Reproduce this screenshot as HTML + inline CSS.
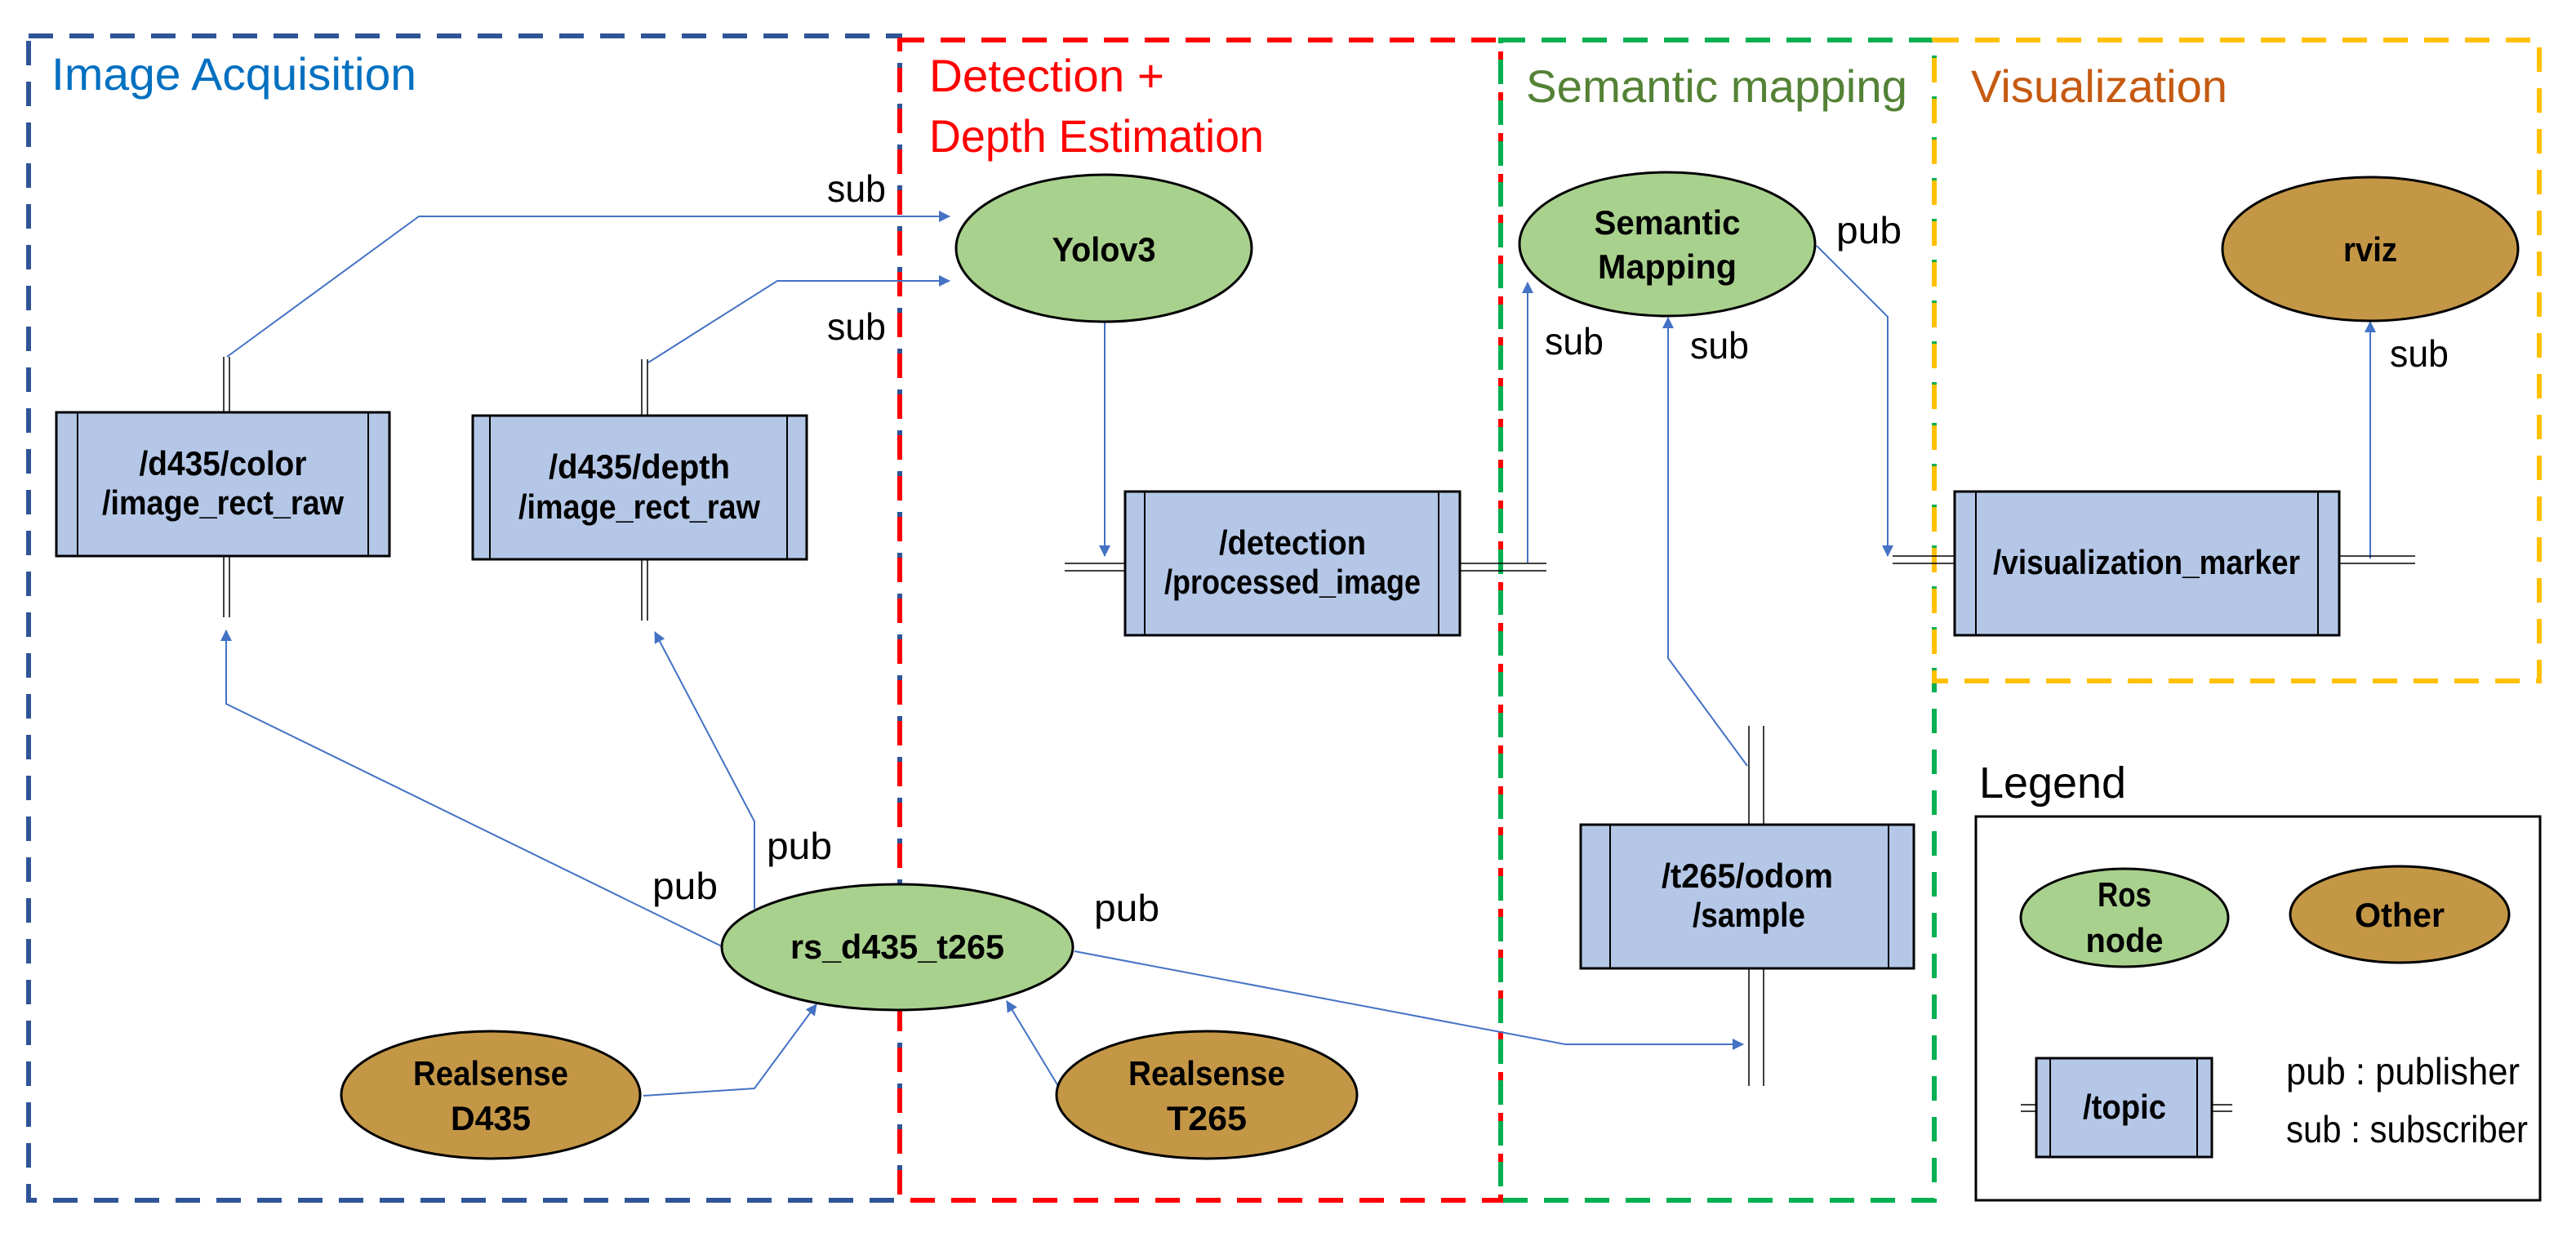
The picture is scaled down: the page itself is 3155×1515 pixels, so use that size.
<!DOCTYPE html>
<html><head><meta charset="utf-8"><style>
html,body{margin:0;padding:0;background:#fff;}
svg{display:block;}
text{font-family:"Liberation Sans",sans-serif;}
.n{font-weight:bold;font-size:42px;fill:#000;text-anchor:middle;}
.l{font-size:46px;fill:#000;}
</style></head><body>
<svg width="3155" height="1515" viewBox="0 0 3155 1515" xmlns="http://www.w3.org/2000/svg">
<defs>
<marker id="a" markerWidth="10" markerHeight="10" refX="9" refY="5" orient="auto" markerUnits="userSpaceOnUse" viewBox="0 0 10 10">
<path d="M0,0 L10,5 L0,10 z" fill="#4472C4"/></marker>
<marker id="b" markerWidth="14" markerHeight="14" refX="13" refY="7" orient="auto" markerUnits="userSpaceOnUse" viewBox="0 0 14 14">
<path d="M0,0 L14,7 L0,14 z" fill="#4472C4"/></marker>
</defs>

<!-- dashed region boxes -->
<g fill="none" stroke-width="6" stroke-dasharray="30 20">
<rect x="35" y="44" width="1067" height="1426" stroke="#2F5597"/>
<rect x="1102" y="49" width="736" height="1421" stroke="#FF0000"/>
<rect x="1838" y="49" width="531" height="1421" stroke="#00B050"/>
<rect x="2369" y="49" width="741" height="785" stroke="#FFC000"/>
</g>

<!-- titles -->
<text x="63" y="110" font-size="56" fill="#0070C0" textLength="447" lengthAdjust="spacingAndGlyphs">Image Acquisition</text>
<text x="1138" y="112" font-size="56" fill="#FF0000" textLength="288" lengthAdjust="spacingAndGlyphs">Detection +</text>
<text x="1138" y="186" font-size="56" fill="#FF0000" textLength="410" lengthAdjust="spacingAndGlyphs">Depth Estimation</text>
<text x="1869" y="125" font-size="56" fill="#548235" textLength="467" lengthAdjust="spacingAndGlyphs">Semantic mapping</text>
<text x="2414" y="125" font-size="56" fill="#C55A11" textLength="314" lengthAdjust="spacingAndGlyphs">Visualization</text>

<!-- connectors -->
<g fill="none" stroke="#4472C4" stroke-width="2">
<polyline points="278,437 513,265 1163,265" marker-end="url(#b)"/>
<polyline points="794,444 952,344 1163,344" marker-end="url(#b)"/>
<line x1="1353" y1="394" x2="1353" y2="681" marker-end="url(#b)"/>
<line x1="1871" y1="689" x2="1871" y2="346" marker-end="url(#b)"/>
<polyline points="2140,938 2043,806 2043,389" marker-end="url(#b)"/>
<polyline points="2225,301 2312,388 2312,681" marker-end="url(#b)"/>
<line x1="2903" y1="684" x2="2903" y2="394" marker-end="url(#b)"/>
<polyline points="884,1159 277,862 277,772" marker-end="url(#b)"/>
<polyline points="924,1113 924,1006 802,774" marker-end="url(#b)"/>
<polyline points="788,1342 924,1333 1000,1230" marker-end="url(#b)"/>
<line x1="1296" y1="1330" x2="1233" y2="1226" marker-end="url(#b)"/>
<polyline points="1316,1165 1917,1279 2135,1279" marker-end="url(#b)"/>
</g>

<!-- double lines -->
<g stroke="#000" stroke-width="1.5">
<line x1="274" y1="437" x2="274" y2="505"/><line x1="281" y1="437" x2="281" y2="505"/>
<line x1="274" y1="681" x2="274" y2="756"/><line x1="281" y1="681" x2="281" y2="756"/>
<line x1="786" y1="440" x2="786" y2="509"/><line x1="793" y1="440" x2="793" y2="509"/>
<line x1="786" y1="685" x2="786" y2="760"/><line x1="793" y1="685" x2="793" y2="760"/>
<line x1="1304" y1="690" x2="1378" y2="690"/><line x1="1304" y1="699" x2="1378" y2="699"/>
<line x1="1788" y1="690" x2="1894" y2="690"/><line x1="1788" y1="699" x2="1894" y2="699"/>
<line x1="2318" y1="681" x2="2394" y2="681"/><line x1="2318" y1="690" x2="2394" y2="690"/>
<line x1="2865" y1="681" x2="2958" y2="681"/><line x1="2865" y1="690" x2="2958" y2="690"/>
<line x1="2142" y1="889" x2="2142" y2="1010"/><line x1="2160" y1="889" x2="2160" y2="1010"/>
<line x1="2142" y1="1186" x2="2142" y2="1330"/><line x1="2160" y1="1186" x2="2160" y2="1330"/>
<line x1="2475" y1="1353" x2="2494" y2="1353"/><line x1="2475" y1="1361" x2="2494" y2="1361"/>
<line x1="2709" y1="1353" x2="2734" y2="1353"/><line x1="2709" y1="1361" x2="2734" y2="1361"/>
</g>

<!-- topic boxes -->
<g fill="#B4C7E7" stroke="#000" stroke-width="3">
<rect x="69" y="505" width="408" height="176"/>
<rect x="579" y="509" width="409" height="176"/>
<rect x="1378" y="602" width="410" height="176"/>
<rect x="2394" y="602" width="471" height="176"/>
<rect x="1936" y="1010" width="408" height="176"/>
<rect x="2494" y="1296" width="215" height="121"/>
</g>
<g stroke="#000" stroke-width="2">
<line x1="95" y1="505" x2="95" y2="681"/><line x1="451" y1="505" x2="451" y2="681"/>
<line x1="600" y1="509" x2="600" y2="685"/><line x1="964" y1="509" x2="964" y2="685"/>
<line x1="1402" y1="602" x2="1402" y2="778"/><line x1="1762" y1="602" x2="1762" y2="778"/>
<line x1="2420" y1="602" x2="2420" y2="778"/><line x1="2839" y1="602" x2="2839" y2="778"/>
<line x1="1972" y1="1010" x2="1972" y2="1186"/><line x1="2313" y1="1010" x2="2313" y2="1186"/>
<line x1="2511" y1="1296" x2="2511" y2="1417"/><line x1="2691" y1="1296" x2="2691" y2="1417"/>
</g>

<!-- ellipses -->
<g stroke="#000" stroke-width="3">
<ellipse cx="1352" cy="304" rx="181" ry="90" fill="#A9D18E"/>
<ellipse cx="2042" cy="299" rx="181" ry="88" fill="#A9D18E"/>
<ellipse cx="2903" cy="305" rx="181" ry="88" fill="#C49746"/>
<ellipse cx="1099" cy="1160" rx="215" ry="77" fill="#A9D18E"/>
<ellipse cx="601" cy="1341" rx="183" ry="78" fill="#C49746"/>
<ellipse cx="1478" cy="1341" rx="184" ry="78" fill="#C49746"/>
<ellipse cx="2602" cy="1124" rx="127" ry="60" fill="#A9D18E"/>
<ellipse cx="2939" cy="1120" rx="134" ry="59" fill="#C49746"/>
</g>
<rect x="2420" y="1000" width="691" height="470" fill="none" stroke="#000" stroke-width="3"/>

<!-- node texts -->
<text class="n" x="1352" y="320" textLength="127" lengthAdjust="spacingAndGlyphs">Yolov3</text>
<text class="n" x="2042" y="287" textLength="179" lengthAdjust="spacingAndGlyphs">Semantic</text>
<text class="n" x="2042" y="341" textLength="170" lengthAdjust="spacingAndGlyphs">Mapping</text>
<text class="n" x="2903" y="320" textLength="66" lengthAdjust="spacingAndGlyphs">rviz</text>
<text class="n" x="1099" y="1174" textLength="262" lengthAdjust="spacingAndGlyphs">rs_d435_t265</text>
<text class="n" x="601" y="1329" textLength="190" lengthAdjust="spacingAndGlyphs">Realsense</text>
<text class="n" x="601" y="1384" textLength="98" lengthAdjust="spacingAndGlyphs">D435</text>
<text class="n" x="1478" y="1329" textLength="192" lengthAdjust="spacingAndGlyphs">Realsense</text>
<text class="n" x="1478" y="1384" textLength="98" lengthAdjust="spacingAndGlyphs">T265</text>
<text class="n" x="2602" y="1110" textLength="66" lengthAdjust="spacingAndGlyphs">Ros</text>
<text class="n" x="2602" y="1166" textLength="95" lengthAdjust="spacingAndGlyphs">node</text>
<text class="n" x="2939" y="1135" textLength="110" lengthAdjust="spacingAndGlyphs">Other</text>

<!-- topic texts -->
<text class="n" x="273" y="582" textLength="205" lengthAdjust="spacingAndGlyphs">/d435/color</text>
<text class="n" x="273" y="630" textLength="296" lengthAdjust="spacingAndGlyphs">/image_rect_raw</text>
<text class="n" x="783" y="586" textLength="222" lengthAdjust="spacingAndGlyphs">/d435/depth</text>
<text class="n" x="783" y="635" textLength="296" lengthAdjust="spacingAndGlyphs">/image_rect_raw</text>
<text class="n" x="1583" y="679" textLength="180" lengthAdjust="spacingAndGlyphs">/detection</text>
<text class="n" x="1583" y="727" textLength="314" lengthAdjust="spacingAndGlyphs">/processed_image</text>
<text class="n" x="2629" y="703" textLength="376" lengthAdjust="spacingAndGlyphs">/visualization_marker</text>
<text class="n" x="2140" y="1087" textLength="210" lengthAdjust="spacingAndGlyphs">/t265/odom</text>
<text class="n" x="2142" y="1135" textLength="138" lengthAdjust="spacingAndGlyphs">/sample</text>
<text class="n" x="2602" y="1370" textLength="102" lengthAdjust="spacingAndGlyphs">/topic</text>

<!-- labels -->
<text class="l" x="1013" y="247" textLength="72" lengthAdjust="spacingAndGlyphs">sub</text>
<text class="l" x="1013" y="416" textLength="72" lengthAdjust="spacingAndGlyphs">sub</text>
<text class="l" x="1892" y="434" textLength="72" lengthAdjust="spacingAndGlyphs">sub</text>
<text class="l" x="2070" y="439" textLength="72" lengthAdjust="spacingAndGlyphs">sub</text>
<text class="l" x="2927" y="449" textLength="72" lengthAdjust="spacingAndGlyphs">sub</text>
<text class="l" x="2249" y="298" textLength="80" lengthAdjust="spacingAndGlyphs">pub</text>
<text class="l" x="939" y="1052" textLength="80" lengthAdjust="spacingAndGlyphs">pub</text>
<text class="l" x="799" y="1101" textLength="80" lengthAdjust="spacingAndGlyphs">pub</text>
<text class="l" x="1340" y="1128" textLength="80" lengthAdjust="spacingAndGlyphs">pub</text>
<text x="2424" y="977" font-size="54" fill="#000" textLength="180" lengthAdjust="spacingAndGlyphs">Legend</text>
<text class="l" x="2800" y="1328" font-size="42" textLength="286" lengthAdjust="spacingAndGlyphs">pub : publisher</text>
<text class="l" x="2800" y="1399" font-size="42" textLength="296" lengthAdjust="spacingAndGlyphs">sub : subscriber</text>
</svg>
</body></html>
